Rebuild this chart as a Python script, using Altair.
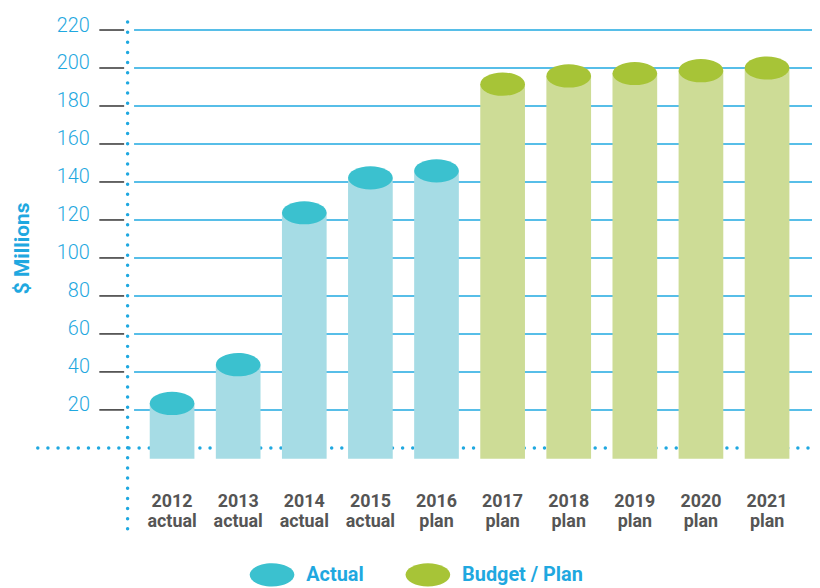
import altair as alt
import pandas as pd

# ---- data ----
years = ["2012", "2013", "2014", "2015", "2016", "2017", "2018", "2019", "2020", "2021"]
types = ["actual", "actual", "actual", "actual", "plan", "plan", "plan", "plan", "plan", "plan"]
values = [23.4, 43.8, 123.8, 142.2, 145.9, 191.5, 195.8, 197.1, 198.6, 200.0]
kinds = ["Actual"] * 5 + ["Budget / Plan"] * 5
tick_values = [20, 40, 60, 80, 100, 120, 140, 160, 180, 200, 220]
bar_base = -5.75  # bars are drawn slightly below the zero line

kind_domain = ["Actual", "Budget / Plan"]
top_colors = ["#3bc1cf", "#a7c437"]
body_colors = ["#a6dce5", "#cddc96"]

BLUE = "#1fa8e0"
W, H = 684, 518

df = pd.DataFrame({"year": years, "type": types, "value": values, "kind": kinds})
grid_df = pd.DataFrame({"v": tick_values})
zero_df = pd.DataFrame({"v": [0]})

yscale = alt.Scale(domain=[-42.33, 228.36], nice=False, zero=False)
xscale = alt.Scale(domain=years, paddingInner=0.324, paddingOuter=0.297, align=0.576)

ELLIPSE = ("M -1 0 C -1 -0.287 -0.552 -0.52 0 -0.52 C 0.552 -0.52 1 -0.287 1 0 "
           "C 1 0.287 0.552 0.52 0 0.52 C -0.552 0.52 -1 0.287 -1 0 Z")

yaxis = alt.Axis(
    values=tick_values, ticks=False, tickSize=0, grid=False,
    labelPadding=38, labelFont="Roboto", labelFontSize=20, labelFontWeight=300,
    labelColor=BLUE, labelBaseline="alphabetic", labelOffset=1,
    domain=True, domainColor=BLUE, domainDash=[0.01, 10.2], domainCap="round",
    domainWidth=3.5,
    title="$ Millions", titleFont="Roboto", titleFontSize=21, titleFontWeight="bold",
    titleColor=BLUE, titleAngle=270, titleX=-105, titleY=235.5,
    titleAlign="center", titleBaseline="middle",
)

grid = alt.Chart(grid_df).mark_rule(color=BLUE, strokeWidth=1.5).encode(
    y=alt.Y("v:Q", scale=yscale, axis=yaxis),
    x=alt.value(7), x2=alt.value(W + 6),
)

ticks = alt.Chart(grid_df).mark_rule(color="#333333", strokeWidth=1.5).encode(
    y=alt.Y("v:Q", scale=yscale),
    x=alt.value(-28), x2=alt.value(-3),
)

zero = alt.Chart(zero_df).mark_rule(
    color=BLUE, strokeWidth=3.5, strokeDash=[0.01, 10.2], strokeCap="round"
).encode(
    y=alt.Y("v:Q", scale=yscale),
    x=alt.value(-90), x2=alt.value(W + 6),
)

bars = alt.Chart(df).mark_bar(opacity=1).encode(
    x=alt.X("year:N", scale=xscale, axis=None),
    y=alt.Y("value:Q", scale=yscale),
    y2=alt.datum(bar_base),
    color=alt.Color("kind:N", scale=alt.Scale(domain=kind_domain, range=body_colors), legend=None),
)

tops = alt.Chart(df).mark_point(filled=True, opacity=1, shape=ELLIPSE, size=2025, strokeWidth=0).encode(
    x=alt.X("year:N", scale=xscale, axis=None),
    y=alt.Y("value:Q", scale=yscale),
    color=alt.Color(
        "kind:N",
        scale=alt.Scale(domain=kind_domain, range=top_colors),
        legend=alt.Legend(
            orient="none", legendX=123.5, legendY=542, direction="horizontal",
            title=None, symbolType=ELLIPSE, symbolSize=2025, symbolStrokeWidth=0,
            symbolOpacity=1, labelFont="Roboto", labelFontSize=20, labelFontWeight="bold",
            labelColor=BLUE, labelOffset=12, columnPadding=42, padding=0,
        ),
    ),
)

year_text = alt.Chart(df).mark_text(
    font="Roboto", fontSize=18, fontWeight="bold", color="#555555", baseline="alphabetic"
).encode(
    x=alt.X("year:N", scale=xscale, axis=None),
    y=alt.value(497),
    text="year:N",
)

type_text = alt.Chart(df).mark_text(
    font="Roboto", fontSize=18, fontWeight="bold", color="#555555", baseline="alphabetic"
).encode(
    x=alt.X("year:N", scale=xscale, axis=None),
    y=alt.value(517),
    text="type:N",
)

chart = alt.layer(grid, ticks, zero, bars, tops, year_text, type_text).resolve_scale(
    color="independent"
).properties(
    width=W, height=H,
    background="white",
    autosize=alt.AutoSizeParams(type="none"),
    padding={"left": 120, "top": 4, "right": 6, "bottom": 62},
).configure_view(stroke=None)

chart.save("out.html", embed_options={"renderer": "svg", "actions": False})
